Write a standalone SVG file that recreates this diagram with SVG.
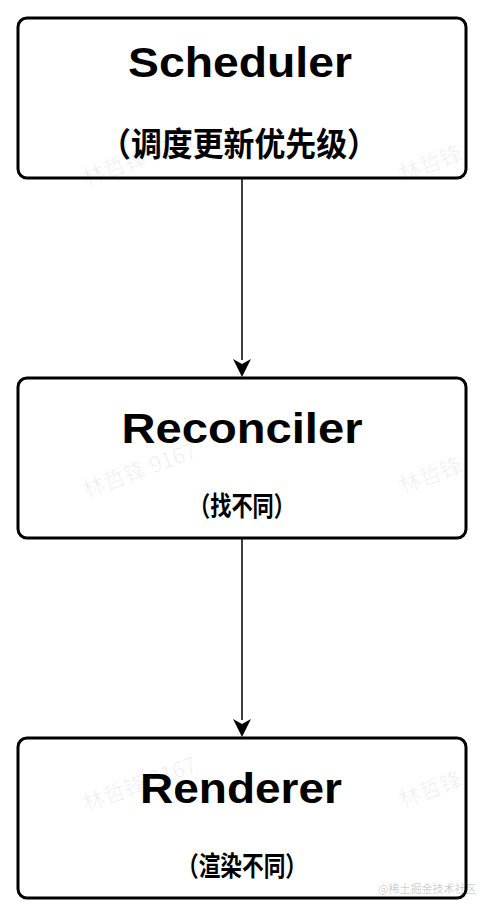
<svg xmlns="http://www.w3.org/2000/svg" width="484" height="916" viewBox="0 0 484 916">
<style>
.box{fill:#fff;stroke:#000;stroke-width:3}
.title{font-family:"Liberation Sans",Arial,sans-serif;font-weight:bold;font-size:42px;fill:#000;text-anchor:middle}
.sub{font-family:"Noto Sans CJK SC","Noto Sans",sans-serif;font-weight:bold;fill:#000;text-anchor:middle}
.edge{stroke:#000;stroke-width:1.5;fill:none}
.wm{font-family:"Noto Sans CJK SC","Noto Sans",sans-serif;font-size:22px;fill:#000;fill-opacity:0.06}
.jj{font-family:"Noto Sans CJK SC","Noto Sans",sans-serif;font-size:11px;fill:#000;fill-opacity:0.22}
</style>
<rect width="484" height="916" fill="#fff"/>
<g id="edges">
<line class="edge" x1="242" y1="179" x2="242" y2="360"/>
<path d="M233,359 L242,364 L251,359 L242,377 Z" fill="#000"/>
<line class="edge" x1="242" y1="539" x2="242" y2="720"/>
<path d="M233,719 L242,724 L251,719 L242,737 Z" fill="#000"/>
</g>
<g id="scheduler">
<rect class="box" x="18" y="18" width="448" height="160" rx="9"/>
<text class="title" x="240" y="77" textLength="224" lengthAdjust="spacingAndGlyphs">Scheduler</text>
<text class="sub" x="239" y="156" font-size="33" textLength="278" lengthAdjust="spacingAndGlyphs">（调度更新优先级）</text>
</g>
<g id="reconciler">
<rect class="box" x="18" y="378" width="448" height="160" rx="9"/>
<text class="title" x="242" y="443" textLength="241" lengthAdjust="spacingAndGlyphs">Reconciler</text>
<text class="sub" x="242" y="516" font-size="27" textLength="106" lengthAdjust="spacingAndGlyphs">（找不同）</text>
</g>
<g id="renderer">
<rect class="box" x="18" y="738" width="448" height="160" rx="9"/>
<text class="title" x="241" y="803" textLength="202" lengthAdjust="spacingAndGlyphs">Renderer</text>
<text class="sub" x="242" y="876" font-size="27" textLength="130" lengthAdjust="spacingAndGlyphs">（渲染不同）</text>
</g>
<g id="watermarks">
<text class="wm" transform="translate(86,186) rotate(-20)">林哲锋 9167</text>
<text class="wm" transform="translate(402,182) rotate(-20)">林哲锋</text>
<text class="wm" transform="translate(86,498) rotate(-20)">林哲锋 9167</text>
<text class="wm" transform="translate(402,494) rotate(-20)">林哲锋</text>
<text class="wm" transform="translate(86,812) rotate(-20)">林哲锋 9167</text>
<text class="wm" transform="translate(402,808) rotate(-20)">林哲锋</text>
<text class="jj" x="378" y="893">@稀土掘金技术社区</text>
</g>
</svg>
